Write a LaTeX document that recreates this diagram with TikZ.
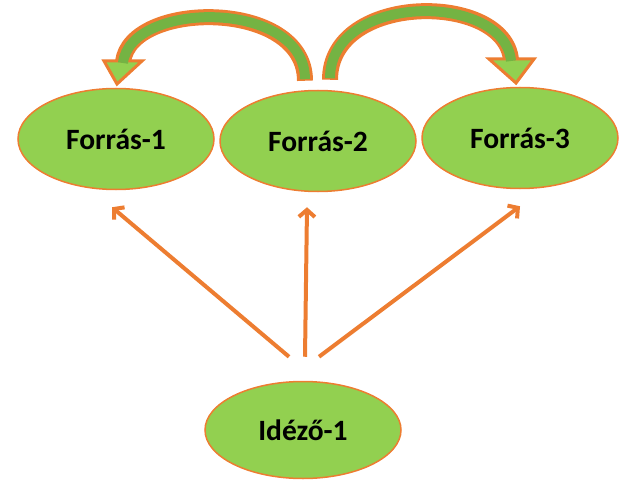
\documentclass[tikz,border=0pt]{standalone}
\usepackage{fontspec}
\setmainfont{Carlito}
\usetikzlibrary{shapes.geometric,arrows.meta,calc}
\definecolor{orng}{HTML}{ED7D31}
\definecolor{lgreen}{HTML}{92D050}
\definecolor{dgreen}{HTML}{74B343}
\tikzset{
  oval/.style={ellipse, draw=orng, line width=1.5pt, fill=lgreen, minimum width=196pt, minimum height=101pt, inner sep=0pt, font=\fontsize{29.5}{31}\selectfont\bfseries},
  arr/.style={draw=orng, line width=4pt, -{Straight Barb[length=7pt,width=16pt]}},
  bandout/.style={draw=orng, line width=16pt},
  bandin/.style={draw=dgreen, line width=10pt},
  headbox/.style={draw=orng, fill=lgreen, line width=3pt, line join=miter}
}
\begin{document}
\begin{tikzpicture}[x=1pt,y=-1pt]
\useasboundingbox (0,0) rectangle (623,481);
\node[oval] (f1) at (116,139) {Forrás-1};
\node[oval] (f2) at (318,141) {Forrás-2};
\node[oval] (f3) at (520,138) {Forrás-3};
\node[oval, minimum height=97pt] (i) at (303,430) {Idéző-1};
% straight arrows
\draw[arr] ($(i.north)+(-14,-24)$) -- ($(f1.south)+(-4,17)$);
\draw[arr] ($(i.north)+(2,-24)$) -- ($(f2.south)+(-11,15)$);
\draw[arr] ($(i.north)+(16,-24)$) -- ($(f3.south)+(0,17)$);
% curved block arrows
\coordinate (la) at ($(f2.north)+(-13,-9)$);
\coordinate (lb) at (123,62);
\coordinate (ra) at ($(f2.north)+(12,-10)$);
\coordinate (rb) at (511,60);
\draw[bandout] (la) .. controls ($(la)+(0,-82)$) and (130,0) .. (lb);
\draw[bandout] (ra) .. controls ($(ra)+(0,-88)$) and (505,-8) .. (rb);
\draw[headbox] (104,61) -- (142,61) -- (117,84) -- cycle;
\draw[headbox] (489,59) -- (534,59) -- (516,83) -- cycle;
\draw[bandin] ($(la)+(0,-1.5)$) .. controls ($(la)+(0,-82)$) and (130,0) .. ($(lb)+(0,1)$);
\draw[bandin] ($(ra)+(0,-1.5)$) .. controls ($(ra)+(0,-88)$) and (505,-8) .. ($(rb)+(0,1)$);
\end{tikzpicture}
\end{document}
